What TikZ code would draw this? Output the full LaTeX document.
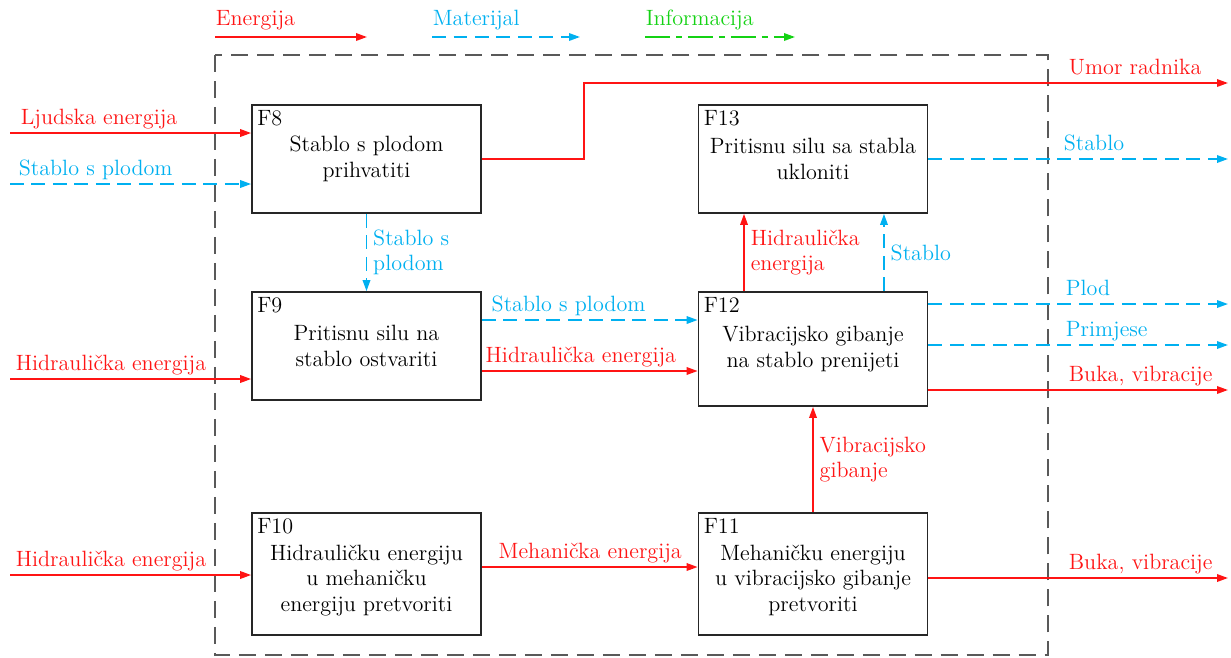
\documentclass[tikz,border=0pt]{standalone}
\usepackage{fontspec}
\usetikzlibrary{arrows.meta,positioning}

\definecolor{enred}{RGB}{255,20,20}
\definecolor{matblue}{RGB}{0,176,240}
\definecolor{infogreen}{RGB}{20,210,20}

\begin{document}
\begin{tikzpicture}[
      x = 0.02cm, y = -0.02cm,
      > = {Triangle[length=2.2mm,width=1.5mm]},
      font = \fontsize{12.6}{14.5}\selectfont,
      line width = 1pt]

      \tikzstyle{fn}=[
      draw = black!85,
      fill = white,
      minimum width = 4.58cm,
      minimum height = 2.16cm,
      align = center]
      \tikzstyle{en}=[enred]
      \tikzstyle{mat}=[matblue, dash pattern=on 2.8mm off 1.5mm]
      \tikzstyle{info}=[infogreen, dash pattern=on 5mm off 1.2mm on 1.2mm off 1.2mm]
      \tikzstyle{lbl}=[anchor=base west, inner sep=0pt, yshift=1.7mm]
      \tikzstyle{vlbl}=[right, align=left, pos=0.5]

      \useasboundingbox (0,0) rectangle (1231,657);

      % system border
      \draw[black!65, line width=0.8pt, dash pattern=on 3.4mm off 1.8mm] (215,55) rectangle (1048,655);

      % legend
      \coordinate (le1) at (215,37);
      \coordinate (le2) at (432,37);
      \coordinate (le3) at (645,37);
      \draw[en,->] (le1) -- ++(152,0) node[lbl, pos=0, yshift=0.6mm, enred] (lg1) {Energija};
      \draw[mat,->] (le2) -- ++(148,0) node[lbl, pos=0, yshift=0.6mm] (lg2) {Materijal};
      \draw[info,->] (le3) -- ++(150,0) node[lbl, pos=0, yshift=0.6mm] (lg3) {Informacija};

      % functions
      \node[fn] (f8) at (366.5,159) {Stablo s plodom\\prihvatiti};
      \node[fn] (f9) at (366.5,346) {Pritisnu silu na\\stablo ostvariti};
      \node[fn, minimum height=2.44cm] (f10) at (366.5,574) {\rule{0pt}{5.6mm}Hidrauličku energiju\\u mehaničku\\energiju pretvoriti};
      \node[fn, minimum height=2.44cm] (f11) at (813,574) {\rule{0pt}{5.6mm}Mehaničku energiju\\u vibracijsko gibanje\\pretvoriti};
      \node[fn, minimum height=2.28cm] (f12) at (813,349) {Vibracijsko gibanje\\na stablo prenijeti};
      \node[fn] (f13) at (813,159) {Pritisnu silu sa stabla\\ukloniti};

      \foreach \f in {8,...,13}
        \node[anchor=north west, inner sep=3pt] (t\f) at (f\f.north west) {F\f};

      % inputs
      \coordinate (in1) at (10,133);
      \coordinate (in2) at (10,184);
      \coordinate (in3) at (10,379);
      \coordinate (in4) at (10,575);
      \draw[en,->] (in1) -- (in1 -| f8.west) node[lbl, pos=0, xshift=2mm, enred] (l1) {Ljudska energija};
      \draw[mat,->] (in2) -- (in2 -| f8.west) node[lbl, pos=0, xshift=1.6mm, matblue] (l2) {Stablo s plodom};
      \draw[en,->] (in3) -- (in3 -| f9.west) node[lbl, pos=0, xshift=1mm, enred] (l3) {Hidraulička energija};
      \draw[en,->] (in4) -- (in4 -| f10.west) node[lbl, pos=0, xshift=1mm, enred] (l4) {Hidraulička energija};

      % inner flows
      \draw[mat,->] (f8.south) -- (f9.north) node[vlbl, matblue] (l5) {Stablo s\\plodom};

      \coordinate (m1) at ([yshift=5.2mm]f9.east);
      \coordinate (m2) at ([yshift=-5mm]f9.east);
      \draw[mat,->] (m1) -- (m1 -| f12.west) node[lbl, pos=0, xshift=1.8mm, matblue] (l6) {Stablo s plodom};
      \draw[en,->] (m2) -- (m2 -| f12.west) node[lbl, pos=0, xshift=0.6mm, enred] (l7) {Hidraulička energija};

      \coordinate (m3) at ([yshift=1.4mm]f10.east);
      \draw[en,->] (m3) -- (m3 -| f11.west) node[lbl, pos=0, xshift=3.2mm, enred] (l8) {Mehanička energija};

      \draw[en,->] (f11.north) -- (f12.south) node[vlbl, enred] (l9) {Vibracijsko\\gibanje};

      \coordinate (u1) at ([xshift=-1.38cm]f12.north);
      \coordinate (u2) at ([xshift=1.42cm]f12.north);
      \draw[en,->] (u1) -- (u1 |- f13.south) node[vlbl, enred] (l10) {Hidraulička\\energija};
      \draw[mat,->] (u2) -- (u2 |- f13.south) node[vlbl, matblue] (l11) {Stablo};

      % outputs
      \coordinate (rim) at (1228,0);
      \coordinate (rlab) at (1063,0);
      \coordinate (umor) at (1228,83);
      \coordinate (o1) at ([yshift=9mm]f12.east);
      \coordinate (o2) at ([yshift=0.8mm]f12.east);
      \coordinate (o3) at ([yshift=-8.2mm]f12.east);
      \coordinate (o4) at ([yshift=-0.8mm]f11.east);

      \draw[en,->] (f8.east) -- ++(102,0) |- (umor);
      \draw[mat,->] (f13.east) -- (f13.east -| rim);
      \draw[mat,->] (o1) -- (o1 -| rim);
      \draw[mat,->] (o2) -- (o2 -| rim);
      \draw[en,->] (o3) -- (o3 -| rim);
      \draw[en,->] (o4) -- (o4 -| rim);

      \node[lbl, xshift=1mm, enred] (l12) at (rlab |- umor) {Umor radnika};
      \node[lbl, matblue] (l13) at (rlab |- f13.east) {Stablo};
      \node[lbl, xshift=0.4mm, matblue] (l14) at (rlab |- o1) {Plod};
      \node[lbl, xshift=0.4mm, matblue] (l15) at (rlab |- o2) {Primjese};
      \node[lbl, xshift=1mm, enred] (l16) at (rlab |- o3) {Buka, vibracije};
      \node[lbl, xshift=1mm, enred] (l17) at (rlab |- o4) {Buka, vibracije};
		\end{tikzpicture}
\end{document}
